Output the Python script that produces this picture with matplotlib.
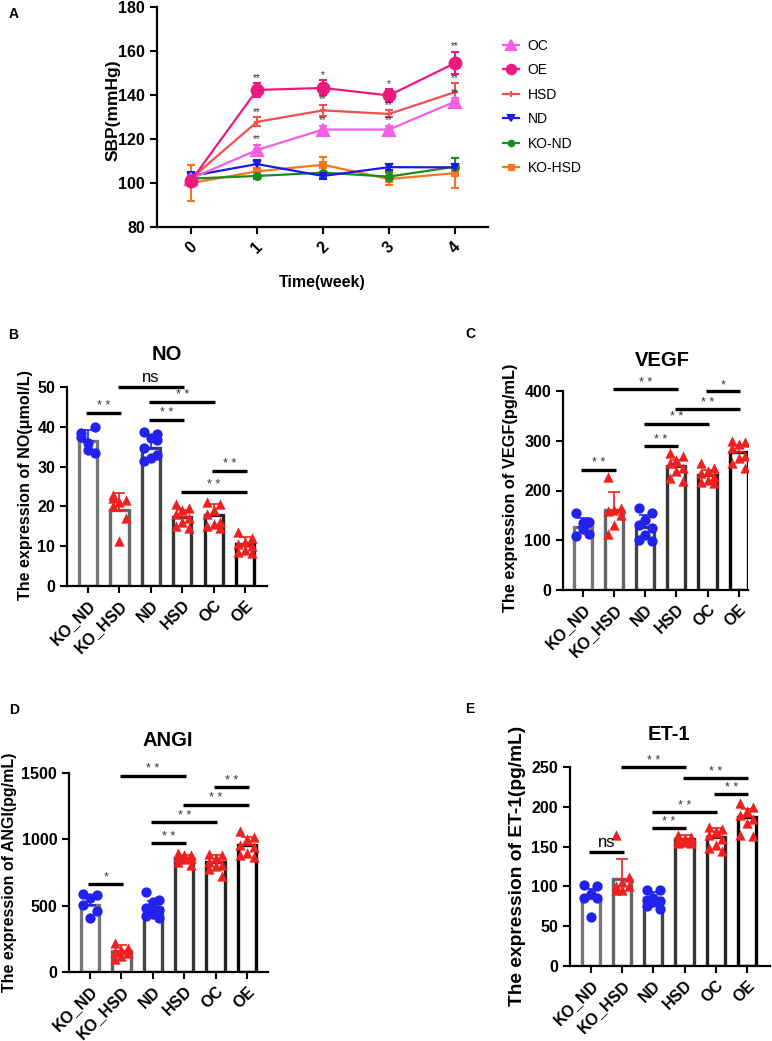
from matplotlib import pyplot as plt
from matplotlib.lines import Line2D
import numpy as np

plt.rcParams['font.family'] = ['Liberation Sans', 'DejaVu Sans']

W, H = 772, 1041

# ---------------- panel A data ----------------
weeks = [0, 1, 2, 3, 4]
line_groups = ["OC", "OE", "HSD", "ND", "KO-ND", "KO-HSD"]
sbp_oc = [102, 115, 124.3, 124.3, 137]
sbp_oe = [101, 142.3, 143.2, 139.8, 154.5]
sbp_hsd = [102, 127.8, 133, 131.4, 141.3]
sbp_nd = [103.2, 108.6, 103.2, 107.2, 107.1]
sbp_kond = [102, 103.2, 104.7, 102.9, 107.4]
sbp_kohsd = [100, 105.3, 108.3, 101.8, 104.5]
err_oc = [1.5, 2.2, 1.6, 1.6, 1.5]
err_oe = [1.5, 3.0, 3.4, 2.8, 5.0]
err_hsd = [1.5, 2.0, 2.6, 1.6, 4.0]
err_nd = [2.0, 2.0, 1.5, 1.5, 1.5]
err_kond = [1.5, 1.5, 2.5, 2.0, 4.0]
err_kohsd = [8.0, 3.2, 3.5, 2.8, 7.0]
stars_oc = ["", "**", "**", "**", "**"]
stars_oe = ["", "**", "*", "*", "**"]
stars_hsd = ["", "**", "**", "**", "**"]

# ---------------- bar panels data ----------------
groups = ["KO_ND", "KO_HSD", "ND", "HSD", "OC", "OE"]

no_mean = [36.5, 19.2, 34.7, 17.3, 17.8, 10.5]
no_sd = [2.6, 4.1, 3.1, 1.8, 2.7, 1.8]
no_pts = [[38.4, 40.0, 36.0, 37.4, 33.4, 34.2],
          [22.8, 21.6, 21.0, 20.2, 17.0, 11.2, 22.0],
          [38.6, 38.3, 37.2, 34.6, 32.9, 32.1, 31.5, 36.7],
          [20.5, 19.5, 19.0, 18.0, 17.0, 16.0, 15.0, 14.5],
          [21.2, 20.6, 19.0, 18.0, 16.2, 15.5, 15.0, 14.5],
          [13.6, 12.0, 11.0, 10.5, 10.0, 9.0, 8.5, 8.3]]

vegf_mean = [126, 161, 126, 249, 232, 277]
vegf_sd = [18, 36, 25, 12, 10, 14]
vegf_pts = [[155, 136, 134, 108, 112, 122],
            [227, 165, 160, 158, 150, 130, 112],
            [165, 155, 140, 130, 125, 110, 100, 98],
            [275, 270, 262, 255, 245, 240, 226, 220],
            [255, 245, 240, 235, 228, 222, 218, 215],
            [300, 298, 294, 285, 270, 265, 256, 245]]

angi_mean = [508, 161, 482, 859, 832, 955]
angi_sd = [70, 40, 55, 25, 50, 65]
angi_pts = [[585, 580, 560, 505, 460, 405],
            [220, 180, 165, 150, 140, 120, 100],
            [600, 545, 530, 480, 470, 440, 420, 410],
            [895, 885, 880, 870, 860, 850, 830, 810],
            [890, 880, 860, 830, 810, 800, 780, 720],
            [1060, 1020, 1000, 960, 940, 900, 880, 870]]

et1_mean = [86, 109, 85, 159, 162, 187]
et1_sd = [11, 26, 8, 5, 11, 10]
et1_pts = [[102, 100, 90, 85, 85, 62],
           [165, 112, 105, 100, 100, 95, 95],
           [96, 96, 85, 83, 82, 80, 75, 72],
           [165, 162, 160, 158, 157, 156, 155, 155],
           [175, 172, 170, 165, 160, 152, 148, 145],
           [205, 200, 195, 190, 185, 180, 165, 163]]

# significance: (from group, to group, height, label)
no_sig = [(0, 1, 43.5, "**"), (1, 3, 50.0, "ns"), (2, 4, 46.3, "**"),
          (2, 3, 41.8, "**"), (4, 5, 29.0, "**"), (3, 5, 23.7, "**")]
vegf_sig = [(0, 1, 242, "**"), (1, 3, 404, "**"), (4, 5, 399, "*"),
            (3, 5, 364, "**"), (2, 4, 334, "**"), (2, 3, 289, "**")]
angi_sig = [(0, 1, 663, "*"), (1, 3, 1480, "**"), (4, 5, 1392, "**"),
            (3, 5, 1261, "**"), (2, 4, 1131, "**"), (2, 3, 972, "**")]
et1_sig = [(0, 1, 143, "ns"), (1, 3, 250, "**"), (3, 5, 236, "**"),
           (4, 5, 216, "**"), (2, 4, 193, "**"), (2, 3, 173, "**")]


def px_rect(left, top, right, bottom):
    """Convert pixel box (from top-left) to figure fraction rect."""
    return [left / W, 1 - bottom / H, (right - left) / W, (bottom - top) / H]


def style_axes(ax, size):
    for s in ("top", "right"):
        ax.spines[s].set_visible(False)
    for s in ("left", "bottom"):
        ax.spines[s].set_linewidth(1.6)
    ax.tick_params(width=1.5, length=5, labelsize=size)
    for lab in ax.get_xticklabels() + ax.get_yticklabels():
        lab.set_fontweight("bold")


def draw_line_panel(fig):
    ax = fig.add_axes(px_rect(157, 7, 488, 227))
    series = [sbp_oc, sbp_oe, sbp_hsd, sbp_nd, sbp_kond, sbp_kohsd]
    errors = [err_oc, err_oe, err_hsd, err_nd, err_kond, err_kohsd]
    colors = ["#f25ee6", "#ec1a7d", "#f2504e", "#1a1ae6", "#1f8a1f", "#f5761f"]
    markers = ["^", "o", "+", "v", "o", "s"]
    msizes = [8.5, 8.5, 5, 5, 5, 4.5]
    order = [5, 4, 3, 2, 0, 1]
    for k in order:
        ax.errorbar(weeks, series[k], yerr=errors[k], color=colors[k],
                    marker=markers[k], markersize=msizes[k], lw=1.6,
                    capsize=3, capthick=1.5, elinewidth=1.5,
                    markeredgewidth=1.5)
    for vals, errs, st in [(sbp_oc, err_oc, stars_oc), (sbp_oe, err_oe, stars_oe),
                           (sbp_hsd, err_hsd, stars_hsd)]:
        for x, v, e, s in zip(weeks, vals, errs, st):
            if s:
                ax.text(x, v + e + 0.3, s, ha="center", va="bottom",
                        fontsize=7, color="#333333")
    ax.set_xlim(-0.515, 4.5)
    ax.set_ylim(80, 180)
    ax.set_yticks([80, 100, 120, 140, 160, 180])
    ax.set_xticks(weeks)
    style_axes(ax, 11.5)
    for lab in ax.get_xticklabels():
        lab.set_rotation(45)
    fig.text(113 / W, 1 - 110 / H, "SBP(mmHg)", rotation=90, ha="center",
             va="center", fontsize=12.5, fontweight="bold")
    ax.set_xlabel("Time(week)", fontsize=11.5, fontweight="bold", labelpad=14)

    # legend with small marker handles
    handles = [Line2D([], [], color=c, marker=m, markersize=s * 0.8, lw=1.6,
                      markeredgewidth=1.5)
               for c, m, s in zip(colors, markers, msizes)]
    ax.legend(handles, line_groups, loc="upper left", frameon=False,
              bbox_to_anchor=(490 / W, 1 - 26 / H), bbox_transform=fig.transFigure,
              fontsize=10, labelspacing=0.76, handlelength=1.2, handletextpad=0.6)
    return ax


def draw_bar_panel(fig, rect, xlim, means, sds, pts, sig, ymax, yticks, title, title_xy):
    ax = fig.add_axes(px_rect(*rect))
    x = np.arange(len(groups))
    edge = ["#767676", "#666666", "#444444", "#353535", "#262626", "#000000"]
    ax.bar(x, means, width=0.58, color="white", edgecolor=edge, linewidth=2.4, zorder=2)
    pt_col = ["#2222ee", "#f02020", "#2222ee", "#f02020", "#f02020", "#f02020"]
    pt_mk = ["o", "^", "o", "^", "^", "^"]
    for i in x:
        ax.errorbar(i, means[i], yerr=[[0], [sds[i]]], color=pt_col[i],
                    capsize=4, elinewidth=1.2, capthick=1.2, zorder=4)
        vals = np.asarray(pts[i])
        offs = np.tile([-0.21, 0.21, 0.0], len(vals))[:len(vals)]
        ax.scatter(i + offs, vals, s=55, marker=pt_mk[i], color=pt_col[i],
                   zorder=3, linewidths=0)
    for a, b, hgt, lab in sig:
        ax.plot([a - 0.05, b + 0.05], [hgt, hgt], color="black", lw=2.4,
                clip_on=False, solid_capstyle="butt", zorder=5)
        if lab == "ns":
            ax.text((a + b) / 2, hgt + ymax * 0.012, lab, ha="center", va="bottom",
                    fontsize=12, color="black")
        else:
            ax.text((a + b) / 2, hgt + ymax * 0.002, " ".join(lab), ha="center",
                    va="bottom", fontsize=9, color="#333333")
    ax.set_xlim(*xlim)
    ax.set_ylim(0, ymax)
    ax.set_yticks(yticks)
    ax.set_xticks(x)
    ax.set_xticklabels(groups)
    style_axes(ax, 11.5)
    for lab in ax.get_xticklabels():
        lab.set_rotation(45)
        lab.set_ha("right")
        lab.set_rotation_mode("anchor")
    fig.text(title_xy[0] / W, 1 - title_xy[1] / H, title, ha="center", va="center",
             fontsize=14.5, fontweight="bold")
    return ax


if __name__ == "__main__":
    fig = plt.figure(figsize=(W / 100, H / 100), dpi=100)

    draw_line_panel(fig)

    draw_bar_panel(fig, (67, 387, 267, 586), (-0.67, 5.7), no_mean, no_sd, no_pts,
                   no_sig, 50, [0, 10, 20, 30, 40, 50], "NO", (167, 355))
    draw_bar_panel(fig, (563, 391, 748, 590), (-0.64, 5.3), vegf_mean, vegf_sd, vegf_pts,
                   vegf_sig, 400, [0, 100, 200, 300, 400], "VEGF", (662, 360))
    draw_bar_panel(fig, (69, 773, 268, 972), (-0.67, 5.67), angi_mean, angi_sd, angi_pts,
                   angi_sig, 1500, [0, 500, 1000, 1500], "ANGI", (168, 740))
    draw_bar_panel(fig, (570, 767, 770, 966), (-0.67, 5.74), et1_mean, et1_sd, et1_pts,
                   et1_sig, 250, [0, 50, 100, 150, 200, 250], "ET-1", (669, 735))

    # y labels of bar panels
    ylabels = [("The expression of NO(\u03bcmol/L)", 26, 485, 11.6),
               ("The expression of VEGF(pg/mL)", 511, 488, 11.8),
               ("The expression of ANGI(pg/mL)", 10, 872, 11.5),
               ("The expression of ET-1(pg/mL)", 517, 866, 13.8)]
    for txt, px, py, fs in ylabels:
        fig.text(px / W, 1 - py / H, txt, rotation=90, ha="center", va="center",
                 fontsize=fs, fontweight="bold")

    # panel letters
    for letter, px, py in [("A", 9, 14), ("B", 8, 335), ("C", 465, 334),
                           ("D", 9, 710), ("E", 465, 709)]:
        fig.text(px / W, 1 - py / H, letter, ha="left", va="center",
                 fontsize=10, fontweight="bold")

    fig.savefig("out.png", dpi=100)
